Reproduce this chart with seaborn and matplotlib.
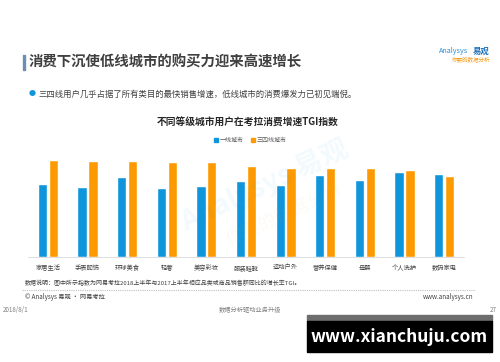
import pandas as pd
import matplotlib
matplotlib.use("Agg")
import matplotlib.pyplot as plt
import seaborn as sns
from matplotlib.lines import Line2D


# =====================================
# DATA
# =====================================

categories = [
    "家居生活", "手表配饰", "环球美食", "轻奢", "美容彩妆", "服装鞋靴",
    "运动户外", "营养保健", "母婴", "个人洗护", "数码家电"
]

tier1_values = [109, 105, 120, 103, 107, 114, 108, 123, 115, 128, 125]

tier34_values = [145, 144, 144, 143, 142, 137, 134, 134, 133, 131, 122]

series_names = ["一线城市", "三四线城市"]

colors = ["#0f95dc", "#fd9a01"]

df = pd.DataFrame({
    "category": categories * 2,
    "value": tier1_values + tier34_values,
    "city": [series_names[0]] * len(categories) + [series_names[1]] * len(categories),
})


# =====================================
# STYLE
# =====================================

sns.set_style("white")
plt.rcParams["font.family"] = ["Noto Sans CJK SC", "DejaVu Sans"]

fig = plt.figure(figsize=(5, 3.62), dpi=100)
W, H = 500, 362


def fx(x):
    return x / W


def fy(y):
    return 1 - y / H


# =====================================
# HEADER
# =====================================

fig.patches.append(plt.Rectangle(
    (fx(23), fy(70)), 2 / W, 15 / H,
    transform=fig.transFigure, color="#6d8fb0", zorder=2
))

fig.text(fx(29), fy(62), "消费下沉使低线城市的购买力迎来高速增长",
         fontsize=10.4, fontweight="bold", color="#404040", va="center")

fig.text(fx(468), fy(51), "Analysys", fontsize=5.2, color="#2a8fd6",
         ha="right", va="center")
fig.text(fx(490), fy(51), "易观", fontsize=6, color="#1b6fb8",
         fontweight="bold", ha="right", va="center")
fig.text(fx(490), fy(59), "你要的数据分析", fontsize=4, color="#f39b1c",
         style="italic", ha="right", va="center")

fig.text(fx(32), fy(94), "●", fontsize=5, color="#0f95dc", va="center", ha="center")
fig.text(fx(38), fy(94),
         "三四线用户几乎占据了所有类目的最快销售增速，低线城市的消费爆发力已初见端倪。",
         fontsize=6, color="#404040", va="center")

fig.text(fx(248), fy(123), "不同等级城市用户在考拉消费增速TGI指数",
         fontsize=7, fontweight="bold", color="#262626", ha="center", va="center")


# =====================================
# BAR CHART
# =====================================

ax = fig.add_axes([fx(28), fy(257), 436 / W, 107 / H])

sns.barplot(
    data=df,
    x="category",
    y="value",
    hue="city",
    order=categories,
    hue_order=series_names,
    palette=colors,
    width=0.55,
    gap=0.15,
    saturation=1,
    legend=False,
    ax=ax
)

ax.set_ylim(0, 160.5)
ax.set_xlim(-0.5, len(categories) - 0.5)
ax.set_xlabel("")
ax.set_ylabel("")
ax.set_yticks([])
ax.tick_params(axis="x", length=0, labelsize=4.5, labelcolor="#404040", pad=5)
for side in ["top", "right", "left"]:
    ax.spines[side].set_visible(False)
ax.spines["bottom"].set_color("#d9d9d9")
ax.spines["bottom"].set_linewidth(0.6)
ax.patch.set_alpha(0)

handles = [
    Line2D([0], [0], marker="s", linestyle="", markersize=2.5,
           markerfacecolor=c, markeredgecolor=c)
    for c in colors
]
fig.legend(handles, series_names, loc="center", bbox_to_anchor=(fx(250), fy(140)),
           ncol=2, frameon=False, fontsize=4.3, labelcolor="#595959",
           handletextpad=0.2, columnspacing=1.2, handlelength=0.8)

# faint watermark
fig.text(fx(265), fy(185), "Analysys 易观", fontsize=20, color="#0f95dc",
         alpha=0.05, rotation=25, ha="center", va="center", fontweight="bold")
fig.text(fx(285), fy(215), "你要的数据分析", fontsize=13, color="#fd9a01",
         alpha=0.05, rotation=25, ha="center", va="center")


# =====================================
# FOOTER
# =====================================

fig.text(fx(25), fy(283),
         "数据说明：图中所示指数为网易考拉2018上半年与2017上半年相应品类或商品销售额同比的增长率TGI。",
         fontsize=4.3, color="#404040", va="center")

fig.lines.append(Line2D([fx(22), fx(475)], [fy(290), fy(290)],
                        transform=fig.transFigure, color="#bfbfbf",
                        linewidth=0.8, linestyle=(0, (1, 1))))

fig.text(fx(25), fy(297), "© Analysys 易观 • 网易考拉", fontsize=4.5,
         color="#404040", va="center")
fig.text(fx(473), fy(297), "www.analysys.cn", fontsize=4.5,
         color="#404040", va="center", ha="right")

fig.text(fx(3), fy(310), "2018/8/1", fontsize=4.5, color="#808080", va="center")
fig.text(fx(250), fy(310), "数据分析驱动业务升级", fontsize=4.5,
         color="#808080", va="center", ha="center")
fig.text(fx(497), fy(310), "27", fontsize=4.5, color="#808080",
         va="center", ha="right")

fig.patches.append(plt.Rectangle(
    (fx(307), fy(321)), 185 / W, 6 / H,
    transform=fig.transFigure, color="#6e6e6e", zorder=3
))
fig.patches.append(plt.Rectangle(
    (fx(307), fy(352)), 185 / W, 31 / H,
    transform=fig.transFigure, color="#000000", zorder=3
))
fig.text(fx(399), fy(337), "www.xianchuju.com", fontsize=12.5, color="white",
         fontweight="bold", ha="center", va="center", zorder=4)

plt.savefig("out.png", dpi=100)
plt.close()
